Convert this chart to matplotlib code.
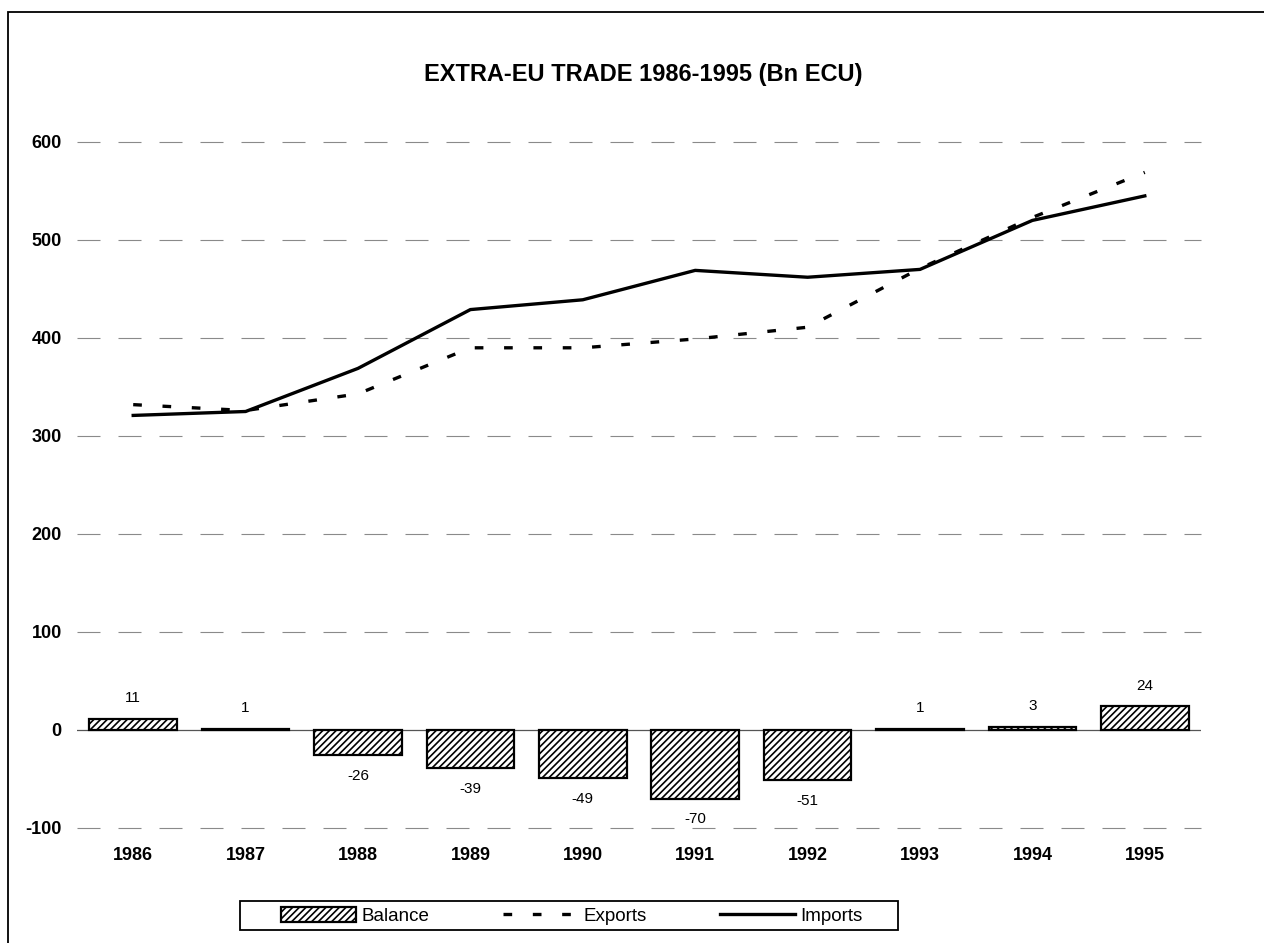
import matplotlib
matplotlib.use("Agg")
import matplotlib.pyplot as plt
from matplotlib.patches import Rectangle

plt.rcParams['font.family'] = ['Liberation Sans', 'DejaVu Sans']
plt.rcParams['hatch.linewidth'] = 1.2
plt.rcParams['axes.unicode_minus'] = False

# datos
years = ['1986', '1987', '1988', '1989', '1990', '1991', '1992', '1993', '1994', '1995']
imports = [321, 325, 369, 429, 439, 469, 462, 470, 520, 545]
balance = [11, 1, -26, -39, -49, -70, -51, 1, 3, 24]
exports = [332, 326, 343, 390, 390, 399, 411, 471, 523, 569]
yticks = [-100, 0, 100, 200, 300, 400, 500, 600]

W, H = 1264, 943
fig = plt.figure(figsize=(W / 100, H / 100), dpi=100)
ax = fig.add_axes([77 / W, 1 - 828 / H, (1201 - 77) / W, (828 - 142) / H])

# marco exterior
fig.patches.append(Rectangle((8 / W, -0.1), 1.2, 1.1 - 12 / H, transform=fig.transFigure,
                             fill=False, edgecolor='black', linewidth=1.3))
# caja de la leyenda
fig.patches.append(Rectangle((240 / W, 1 - 930 / H), (898 - 240) / W, 29 / H, transform=fig.transFigure,
                             fill=False, edgecolor='black', linewidth=1.3))

x = list(range(len(years)))

# lineas de la grilla
for v in yticks:
    if v != 0:
        ax.axhline(v, color='#8a8a8a', linewidth=0.8, dashes=(20.7, 16.2), zorder=0, clip_on=False)
ax.axhline(0, color='#555555', linewidth=0.9, zorder=1)

bars = ax.bar(x, balance, width=0.78, facecolor='white', edgecolor='black',
              linewidth=1.6, hatch='/////', label='Balance', zorder=2)
l_exp, = ax.plot(x, exports, color='black', linewidth=2.4, dashes=(2.6, 6.2), label='Exports', zorder=3)
l_imp, = ax.plot(x, imports, color='black', linewidth=2.4, label='Imports', zorder=3)

for xi, v in zip(x, balance):
    off = 15 if v > 0 else -15
    ax.annotate(str(v), (xi, v), xytext=(0, off), textcoords='offset points',
                ha='center', va='center', fontsize=11)

ax.set_xlim(-0.5, len(years) - 0.5)
ax.set_ylim(-100, 600)
ax.set_yticks(yticks)
ax.set_xticks(x)
ax.set_xticklabels(years)
ax.tick_params(length=0, labelsize=13)
ax.tick_params(axis='x', pad=14)
ax.tick_params(axis='y', pad=11)
for lab in ax.get_xticklabels() + ax.get_yticklabels():
    lab.set_fontweight('bold')
for s in ax.spines.values():
    s.set_visible(False)

fig.text(643 / W, 1 - 75 / H, 'EXTRA-EU TRADE 1986-1995 (Bn ECU)', ha='center', va='center',
         fontsize=17, fontweight='bold')

leg = fig.legend([bars, l_exp, l_imp], ['Balance', 'Exports', 'Imports'],
                 loc='center', bbox_to_anchor=(572 / W, 1 - 916 / H), ncol=3,
                 fontsize=13.5, frameon=False,
                 handlelength=4.0, handleheight=0.8, handletextpad=0.3, columnspacing=3.9,
                 borderpad=0.25, borderaxespad=0)

fig.savefig('out.png', dpi=100)
